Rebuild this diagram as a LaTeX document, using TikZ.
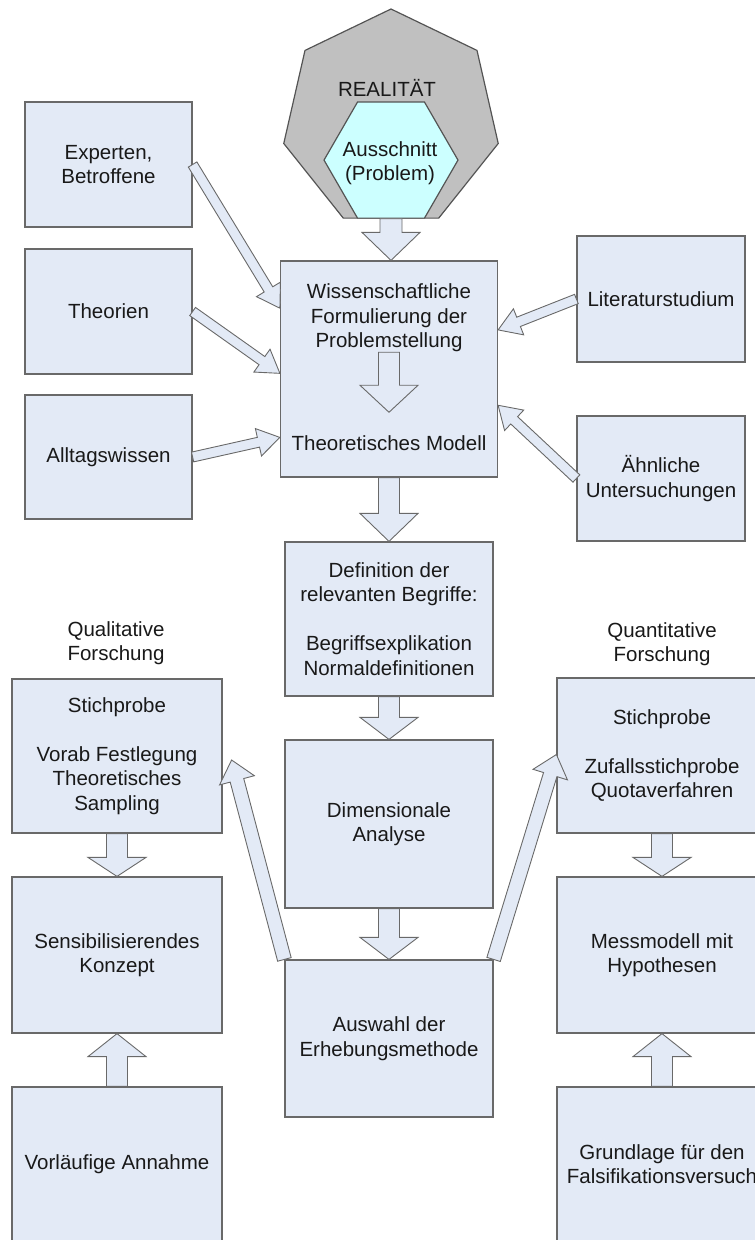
\documentclass[tikz,border=0pt]{standalone}
\usepackage{fontspec}
\setmainfont{Liberation Sans}
\usepackage{tikz}
\usetikzlibrary{shapes,arrows}
\usetikzlibrary{calc}

\definecolor{boxfill}{RGB}{227,234,246}
\definecolor{boxline}{RGB}{105,105,105}
\definecolor{heptfill}{RGB}{192,192,192}
\definecolor{hexfill}{RGB}{204,255,255}
\definecolor{txtcol}{RGB}{25,25,25}

\tikzset{%
	block/.style      = {draw=boxline, fill=boxfill, line width=1.2pt, rectangle,
		align=center, inner sep=0pt},
	txt/.style        = {align=center, inner sep=0pt}, % plain text
	fat/.style        = {draw=boxline, fill=boxfill, line width=0.9pt}, % block arrow
	realitaet/.style  = {draw=boxline!80!black, fill=heptfill, line width=1.2pt,
		regular polygon, regular polygon sides=7, minimum size=220pt, inner sep=0pt},
	ausschnitt/.style = {draw=boxline!80!black, fill=hexfill, line width=1.2pt,
		regular polygon, regular polygon sides=6, minimum size=134pt, inner sep=0pt}
}

% block arrow: from, to, half shaft, half head, head length
\newcommand{\fatarrow}[5]{%
	\path ($(#2)!#5!(#1)$) coordinate (hb);
	\draw[fat] ($(#1)!#3!90:(#2)$) -- ($(hb)!#3!90:(#2)$) -- ($(hb)!#4!90:(#2)$) -- (#2)
		-- ($(hb)!#4!-90:(#2)$) -- ($(hb)!#3!-90:(#2)$) -- ($(#1)!#3!-90:(#2)$) -- cycle;
}

\begin{document}
\begin{tikzpicture}[x=1pt, y=-1pt,
	every node/.style={font=\fontsize{20.5}{24.5}\selectfont, text=txtcol}]
	\useasboundingbox (0,0) rectangle (755,1240);

	% Realitaet
	\node[realitaet] (hepta) at (391,119) {};
	\node[ausschnitt, anchor=south] (aus) at (hepta.south) {};
	\node[txt] (real) at (387,88) {REALITÄT};
	\node[txt] (problem) at (390,163) {Ausschnitt\\(Problem)};

	% linke Spalte oben
	\node[block, minimum width=167pt, minimum height=125pt] (expert) at (108.5,164.5) {Experten,\\Betroffene};
	\node[block, minimum width=167pt, minimum height=125pt] (theorien) at (108.5,311.5) {Theorien};
	\node[block, minimum width=167pt, minimum height=124pt] (alltag) at (108.5,457) {Alltagswissen};

	% rechte Spalte oben
	\node[block, minimum width=168pt, minimum height=126pt] (literatur) at (661,299) {Literaturstudium};
	\node[block, minimum width=168pt, minimum height=125pt] (aehnlich) at (661,478.5) {Ähnliche\\Untersuchungen};

	% Mitte
	\node[block, minimum width=217pt, minimum height=216pt] (wiss) at (389,369) {};
	\node[txt] (form) at (389,318) {Wissenschaftliche\\Formulierung der\\Problemstellung};
	\node[txt, inner ysep=23pt] (modell) at (389,443) {Theoretisches Modell};
	\node[block, minimum width=208pt, minimum height=154pt] (definition) at (389,619)
		{Definition der\\relevanten Begriffe:\\[24.5pt]Begriffsexplikation\\Normaldefinitionen};
	\node[block, minimum width=208pt, minimum height=168pt] (dimension) at (389,824) {Dimensionale\\Analyse};
	\node[block, minimum width=208pt, minimum height=157pt] (auswahl) at (389,1038.5) {Auswahl der\\Erhebungsmethode};

	% qualitativ
	\node[txt] (quali) at (116,643) {Qualitative\\Forschung};
	\node[block, minimum width=210pt, minimum height=154pt] (stich1) at (117,756)
		{Stichprobe\\[24.5pt]Vorab Festlegung\\Theoretisches\\Sampling};
	\node[block, minimum width=210pt, minimum height=156pt] (sensi) at (117,955) {Sensibilisierendes\\Konzept};
	\node[block, minimum width=210pt, minimum height=154pt] (vorl) at (117,1164) {Vorläufige Annahme};

	% quantitativ
	\node[txt] (quanti) at (662,644) {Quantitative\\Forschung};
	\node[block, minimum width=210pt, minimum height=155pt] (stich2) at (662,755.5)
		{Stichprobe\\[24.5pt]Zufallsstichprobe\\Quotaverfahren};
	\node[block, minimum width=210pt, minimum height=156pt] (mess) at (662,955) {Messmodell mit\\Hypothesen};
	\node[block, minimum width=210pt, minimum height=154pt] (grund) at (662,1164) {Grundlage für den\\Falsifikationsversuch};

	% Endpunkte an der Problemstellung
	\coordinate (w1) at ($(wiss.north west)!0.22!(wiss.south west)$);
	\coordinate (w2) at ($(wiss.north west)!0.52!(wiss.south west)$);
	\coordinate (w3) at ($(wiss.north west)!0.815!(wiss.south west)$);
	\coordinate (w4) at ($(wiss.north east)!0.32!(wiss.south east)$);
	\coordinate (w5) at ($(wiss.north east)!0.667!(wiss.south east)$);
	\coordinate (q1) at ([xshift=9pt,yshift=-4pt]stich1.east);
	\coordinate (q2) at ([yshift=1pt]stich2.west);

	% Pfeile senkrecht
	\fatarrow{aus.south}{aus.south |- wiss.north}{11pt}{29pt}{28pt}
	\fatarrow{form.south}{modell.north}{10.5pt}{29pt}{27pt}
	\fatarrow{wiss.south}{definition.north}{10.5pt}{29pt}{28pt}
	\fatarrow{definition.south}{dimension.north}{10.5pt}{29pt}{22pt}
	\fatarrow{dimension.south}{auswahl.north}{10.5pt}{29pt}{22pt}
	\fatarrow{stich1.south}{sensi.north}{10.5pt}{29pt}{19pt}
	\fatarrow{vorl.north}{sensi.south}{10.5pt}{29pt}{23pt}
	\fatarrow{stich2.south}{mess.north}{10.5pt}{29pt}{19pt}
	\fatarrow{grund.north}{mess.south}{10.5pt}{29pt}{23pt}

	% Pfeile schraeg
	\fatarrow{expert.east}{w1}{5pt}{14pt}{22pt}
	\fatarrow{theorien.east}{w2}{5pt}{14pt}{22pt}
	\fatarrow{alltag.east}{w3}{5pt}{14pt}{22pt}
	\fatarrow{literatur.west}{w4}{5pt}{14pt}{22pt}
	\fatarrow{aehnlich.west}{w5}{5pt}{14pt}{22pt}
	\fatarrow{auswahl.north west}{q1}{7pt}{18pt}{21pt}
	\fatarrow{auswahl.north east}{q2}{7pt}{18pt}{21pt}
\end{tikzpicture}
\end{document}
